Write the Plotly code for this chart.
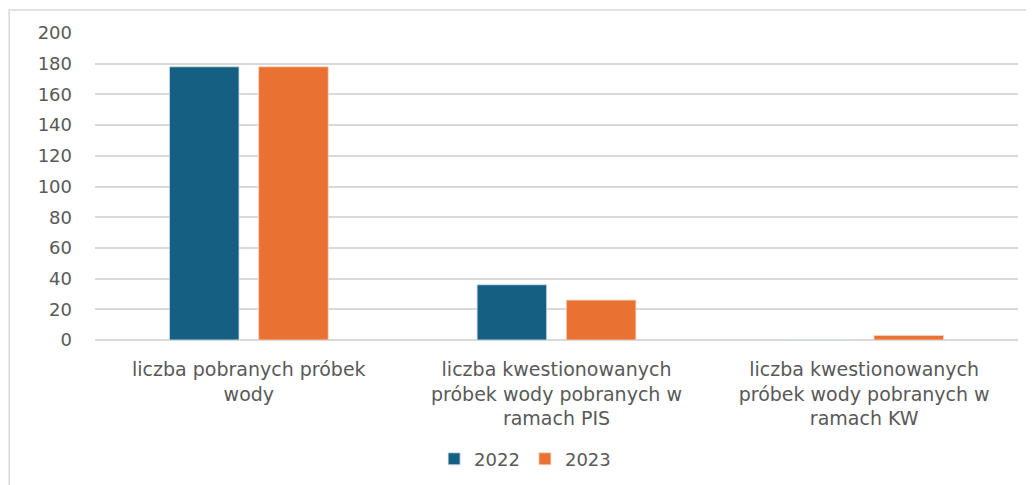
import plotly.graph_objects as go

categories = [
    "liczba pobranych próbek<br>wody",
    "liczba kwestionowanych<br>próbek wody pobranych w<br>ramach PIS",
    "liczba kwestionowanych<br>próbek wody pobranych w<br>ramach KW",
]
values_2022 = [178, 36, 0]
values_2023 = [178, 26, 3]
y_ticks = [0, 20, 40, 60, 80, 100, 120, 140, 160, 180, 200]

FONT = "DejaVu Sans"
GRAY = "#595959"

fig = go.Figure()
fig.add_trace(go.Bar(name="2022", x=categories, y=values_2022,
                     marker=dict(color="#156082", line=dict(color="#d6e4ec", width=0.8))))
fig.add_trace(go.Bar(name="2023", x=categories, y=values_2023,
                     marker=dict(color="#E97132", line=dict(color="#f8d9c6", width=0.8))))

fig.update_layout(
    width=1026, height=477,
    margin=dict(l=87, r=16, t=25, b=145, autoexpand=False),
    paper_bgcolor="white", plot_bgcolor="white",
    barmode="group", bargap=0.42, bargroupgap=0.22,
    font=dict(family=FONT, size=18, color=GRAY),
    showlegend=True,
    legend=dict(orientation="h", x=0.466, xanchor="center", y=-0.388, yanchor="middle",
                font=dict(family=FONT, size=18, color=GRAY), itemwidth=30,
                traceorder="normal"),
    xaxis=dict(showgrid=False, showline=False, ticks="", ticklabelstandoff=16,
               automargin=False,
               tickfont=dict(family=FONT, size=19, color=GRAY)),
    yaxis=dict(range=[0, 200], tickvals=y_ticks, showgrid=True, gridcolor="#d9d9d9",
               gridwidth=1.5, zeroline=True, zerolinecolor="#d9d9d9", zerolinewidth=1.5,
               showline=False, ticks="", ticklabelstandoff=22, automargin=False,
               tickfont=dict(family=FONT, size=18, color=GRAY)),
    shapes=[dict(type="rect", xref="paper", yref="paper",
                 x0=-0.093, x1=1.06, y0=-0.6, y1=1.075,
                 line=dict(color="#d9d9d9", width=1.5), fillcolor="rgba(0,0,0,0)",
                 layer="below")],
)

fig.write_html("out.html")
